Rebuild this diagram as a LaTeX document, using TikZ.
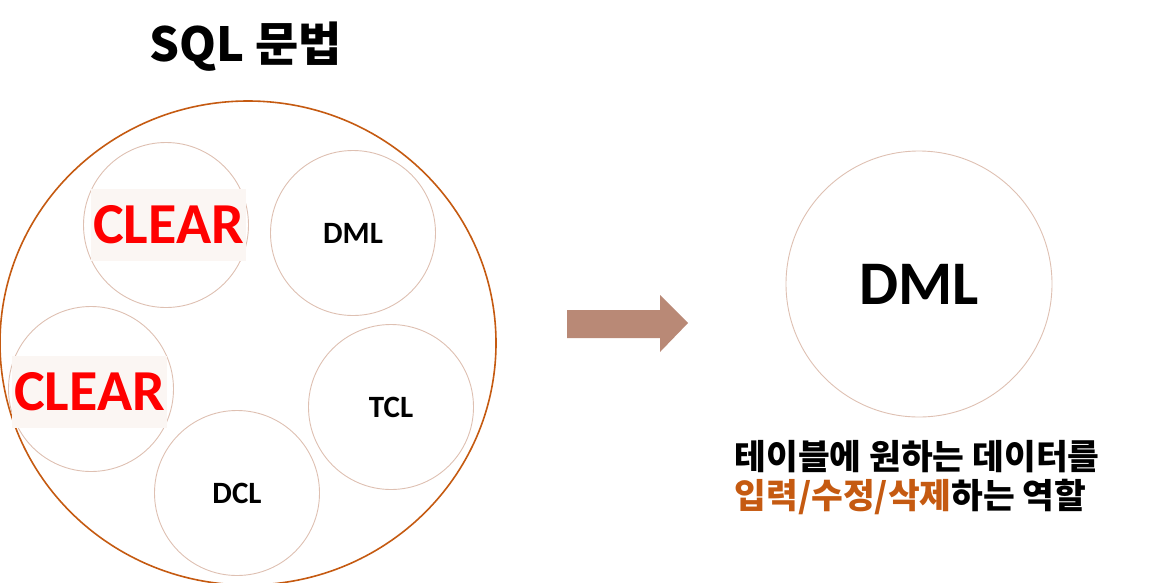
\documentclass[tikz,border=0pt]{standalone}
\usepackage{fontspec}
\usetikzlibrary{shapes.geometric}
\setmainfont{Carlito}
\newfontfamily\kr{Noto Sans CJK KR}
\definecolor{bigline}{RGB}{197,90,17}
\definecolor{ringline}{RGB}{222,192,178}
\definecolor{arrowfill}{RGB}{185,137,118}
\definecolor{hilite}{RGB}{251,246,243}
\definecolor{keyword}{RGB}{197,90,17}
\begin{document}
\begin{tikzpicture}[x=1pt, y=-1pt,
    ring/.style={circle, draw=ringline, line width=0.9pt, minimum size=165pt, inner sep=0pt, font=\bfseries\fontsize{31}{31}\selectfont},
    cleared/.style={fill=hilite, text=red, inner xsep=2.5pt, minimum height=72pt, font=\bfseries\fontsize{58}{58}\selectfont}]
    \useasboundingbox (0,0) rectangle (1161,582);

    % Title
    \node[font=\kr\bfseries\fontsize{47}{47}\selectfont] (title) at (246,47) {SQL 문법};

    % Outer circle
    \node[ellipse, draw=bigline, line width=1.6pt, minimum width=496pt, minimum height=484pt] (sql) at (248,343) {};

    % Sub languages
    \node[ring] (ddl) at (166,225) {};
    \node[cleared] (ddltext) at (168.5,225) {CLEAR};
    \node[ring] (dml) at (353,233) {DML};
    \node[ring] (dql) at (91,389) {};
    \node[cleared] (dqltext) at (89.5,392) {CLEAR};
    \node[ring] (tcl) at (391,407) {TCL};
    \node[ring] (dcl) at (237,493) {DCL};

    % Arrow
    \fill[arrowfill] (567,310) -- (660,310) -- (660,295) -- (688,323) -- (660,352) -- (660,338) -- (567,338) -- cycle;

    % Detail
    \node[circle, draw=ringline, line width=0.9pt, minimum size=266pt, font=\bfseries\fontsize{62}{62}\selectfont] (detail) at (919,284) {DML};
    \node[anchor=west, align=left, font=\kr\bfseries\fontsize{34.5}{39}\selectfont] (desc) at (731,478)
        {테이블에 원하는 데이터를\\{\color{keyword}입력/수정/삭제}하는 역할};
\end{tikzpicture}
\end{document}
